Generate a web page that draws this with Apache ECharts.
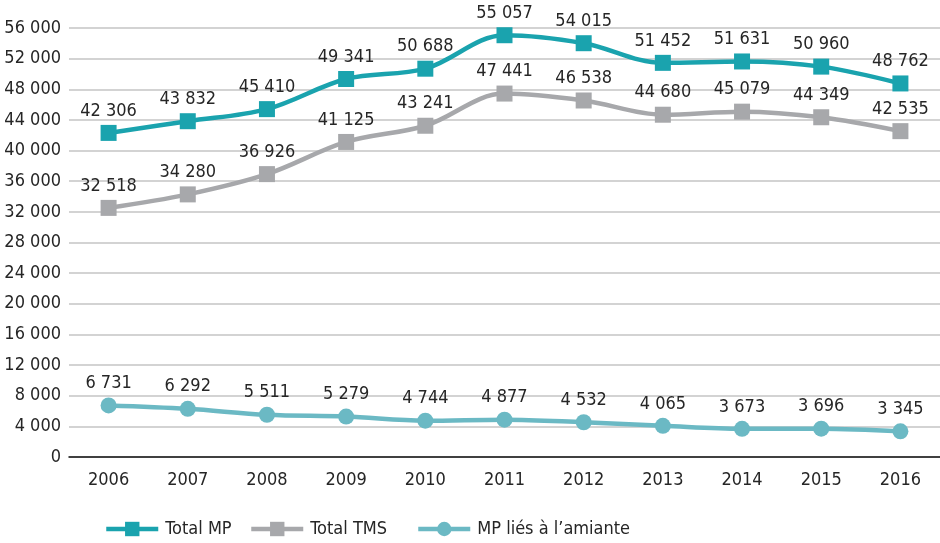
<!DOCTYPE html>
<html>
<head>
<meta charset="utf-8">
<script src="https://cdn.jsdelivr.net/npm/echarts@6/dist/echarts.min.js"></script>
<style>
  html, body { margin: 0; padding: 0; background: #fff; }
  #chart { width: 940px; height: 543px; }
</style>
</head>
<body>
<div id="chart"></div>
<script>
// Years on the horizontal axis
const years = ['2006', '2007', '2008', '2009', '2010', '2011', '2012', '2013', '2014', '2015', '2016'];

// Occupational disease counts per year
const totalMP = [42306, 43832, 45410, 49341, 50688, 55057, 54015, 51452, 51631, 50960, 48762];
const totalTMS = [32518, 34280, 36926, 41125, 43241, 47441, 46538, 44680, 45079, 44349, 42535];
const mpAmiante = [6731, 6292, 5511, 5279, 4744, 4877, 4532, 4065, 3673, 3696, 3345];

const seriesNames = ['Total MP', 'Total TMS', 'MP liés à l\u2019amiante'];

const FONT = '"DejaVu Sans Condensed", "Liberation Sans Narrow", "Liberation Sans", sans-serif';
const TEXT = '#262626';
const COLORS = ['#1aa3ae', '#a7a8ab', '#6bb9c4'];

// 12 345 -> "12 345"
function fmt(v) {
  return String(v).replace(/\B(?=(\d{3})+(?!\d))/g, ' ');
}

function lineSeries(name, data, color, symbol) {
  return {
    name: name,
    type: 'line',
    data: data,
    smooth: 0.35,
    symbol: symbol,
    symbolSize: 16,
    lineStyle: { color: color, width: 4.5 },
    itemStyle: { color: color },
    label: {
      show: true,
      position: 'top',
      distance: 5,
      fontFamily: FONT,
      fontSize: 18,
      color: TEXT,
      formatter: p => fmt(p.value)
    },
    emphasis: { disabled: true }
  };
}

function legendAt(name, left) {
  return {
    data: [name],
    left: left,
    top: 515,
    itemWidth: 52,
    itemHeight: 18,
    itemGap: 0,
    lineStyle: { width: 4.5 },
    textStyle: { fontFamily: FONT, fontSize: 18, color: TEXT, padding: [0, 0, 0, 2] }
  };
}

const chart = echarts.init(document.getElementById('chart'), null, { renderer: 'canvas' });
chart.setOption({
  animation: false,
  backgroundColor: '#fff',
  grid: { left: 69, right: 0, top: 28, bottom: 86, containLabel: false },
  legend: [
    legendAt(seriesNames[0], 99),
    legendAt(seriesNames[1], 244),
    legendAt(seriesNames[2], 411)
  ],
  xAxis: {
    type: 'category',
    data: years,
    boundaryGap: true,
    axisLine: { lineStyle: { color: '#111', width: 1.5 } },
    axisTick: { show: false },
    axisLabel: { fontFamily: FONT, fontSize: 18, color: TEXT, margin: 14 }
  },
  yAxis: {
    type: 'value',
    min: 0,
    max: 56000,
    interval: 4000,
    axisLine: { show: false },
    axisTick: { show: false },
    splitLine: { lineStyle: { color: '#c4c4c4', width: 1.5 } },
    axisLabel: { fontFamily: FONT, fontSize: 18, color: TEXT, margin: 8, formatter: v => fmt(v) }
  },
  series: [
    lineSeries(seriesNames[0], totalMP, COLORS[0], 'rect'),
    lineSeries(seriesNames[1], totalTMS, COLORS[1], 'rect'),
    lineSeries(seriesNames[2], mpAmiante, COLORS[2], 'circle')
  ]
});
</script>
</body>
</html>
